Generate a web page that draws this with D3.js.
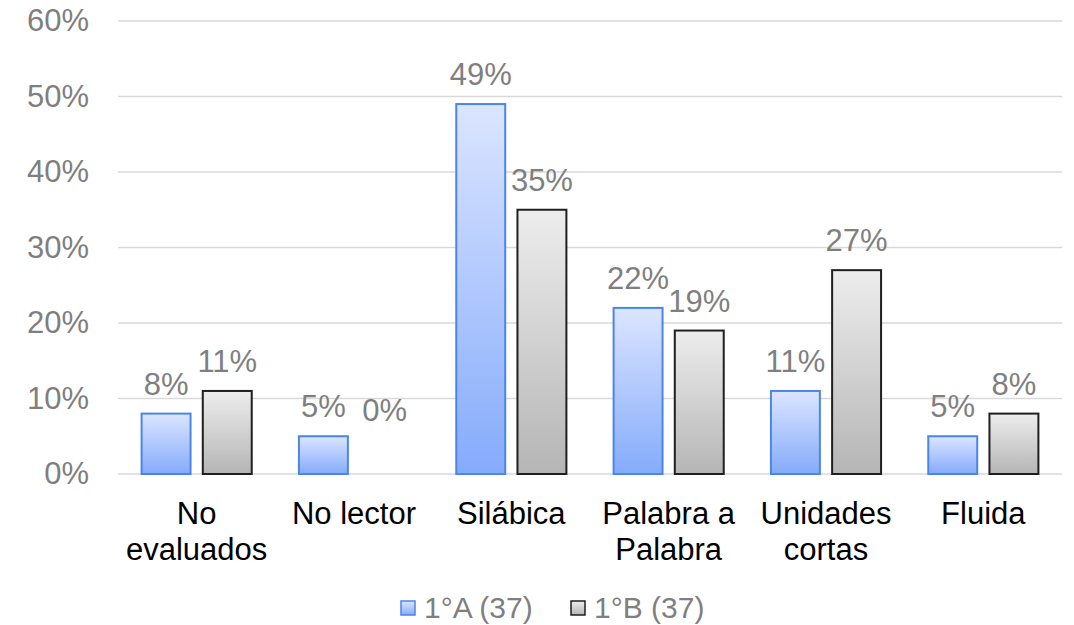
<!DOCTYPE html>
<html>
<head>
<meta charset="utf-8">
<script src="https://cdn.jsdelivr.net/npm/d3@7"></script>
<style>
  body { margin: 0; background: #fff; }
  text { font-family: "Liberation Sans", Arial, sans-serif; }
</style>
</head>
<body>
<div id="chart"></div>
<script>
// Width and height
var w = 1074;
var h = 625;

// chart data
var categories = [["No", "evaluados"], ["No lector"], ["Silábica"], ["Palabra a", "Palabra"], ["Unidades", "cortas"], ["Fluida"]];
var seriesNames = ["1°A (37)", "1°B (37)"];
var grupoA = [8, 5, 49, 22, 11, 5];
var grupoB = [11, 0, 35, 19, 27, 8];
var yTicks = [0, 10, 20, 30, 40, 50, 60];

var margin = { top: 21, right: 12, bottom: 151, left: 118 };
var fontSize = "31px";

var svg = d3.select("#chart")
  .append("svg")
  .attr("width", w)
  .attr("height", h);

// gradients for the bars
var defs = svg.append("defs");
function addGradient(id, top, bottom) {
  var g = defs.append("linearGradient")
    .attr("id", id)
    .attr("x1", 0).attr("y1", 0)
    .attr("x2", 0).attr("y2", 1);
  g.append("stop").attr("offset", "0%").attr("stop-color", top);
  g.append("stop").attr("offset", "100%").attr("stop-color", bottom);
}
addGradient("gradA", "#dbe5ff", "#85abfb");
addGradient("gradB", "#ededed", "#b5b5b5");

var fills = ["url(#gradA)", "url(#gradB)"];
var strokes = ["#4a85ea", "#1f1f1f"];

var x0 = d3.scaleBand()
  .domain(d3.range(categories.length))
  .range([margin.left, w - margin.right])
  .paddingInner(0.3)
  .paddingOuter(0.15);

var x1 = d3.scaleBand()
  .domain([0, 1])
  .range([0, x0.bandwidth()])
  .paddingInner(0.2);

var y = d3.scaleLinear()
  .domain([0, 60])
  .range([h - margin.bottom, margin.top]);

// gridlines
svg.append("g")
  .selectAll("line")
  .data(yTicks)
  .enter()
  .append("line")
  .attr("x1", margin.left)
  .attr("x2", w - margin.right)
  .attr("y1", function(d) { return y(d); })
  .attr("y2", function(d) { return y(d); })
  .style("stroke", "#d9d9d9")
  .style("stroke-width", 1.5);

// y axis labels
var yAxis = d3.axisLeft(y)
  .tickValues(yTicks)
  .tickFormat(function(d) { return d + "%"; })
  .tickSize(0)
  .tickPadding(29);

var gy = svg.append("g")
  .attr("transform", "translate(" + margin.left + ",0)")
  .call(yAxis);
gy.select(".domain").remove();
gy.selectAll("text")
  .style("font-size", fontSize)
  .style("fill", "#7f7f7f");

// category labels
var xAxis = d3.axisBottom(x0)
  .tickSize(0)
  .tickFormat("");

var gx = svg.append("g")
  .attr("transform", "translate(0," + y(0) + ")")
  .call(xAxis);
gx.select(".domain").remove();

gx.selectAll(".tick").each(function(d) {
  var t = d3.select(this).append("text")
    .attr("text-anchor", "middle")
    .style("font-size", fontSize)
    .style("fill", "#000");
  categories[d].forEach(function(line, i) {
    t.append("tspan")
      .attr("x", 0)
      .attr("y", 50 + i * 36)
      .text(line);
  });
});

// bars
var series = [grupoA, grupoB];
series.forEach(function(values, s) {
  var g = svg.append("g");
  g.selectAll("rect")
    .data(values.map(function(v, i) { return { v: v, i: i }; }).filter(function(d) { return d.v > 0; }))
    .enter()
    .append("rect")
    .attr("x", function(d) { return x0(d.i) + x1(s); })
    .attr("y", function(d) { return y(d.v); })
    .attr("width", x1.bandwidth())
    .attr("height", function(d) { return y(0) - y(d.v); })
    .style("fill", fills[s])
    .style("stroke", strokes[s])
    .style("stroke-width", 2);

  // data labels
  g.selectAll("text")
    .data(values)
    .enter()
    .append("text")
    .attr("x", function(d, i) { return x0(i) + x1(s) + x1.bandwidth() / 2; })
    .attr("y", function(d) { return y(Math.max(d, 4.5)) - 19; })
    .attr("text-anchor", "middle")
    .style("font-size", fontSize)
    .style("fill", "#7f7f7f")
    .text(function(d) { return d + "%"; });
});

// legend
var legend = svg.append("g")
  .attr("transform", "translate(400,618)");
var legendX = [0, 170];
seriesNames.forEach(function(name, s) {
  var item = legend.append("g")
    .attr("transform", "translate(" + legendX[s] + ",0)");
  item.append("rect")
    .attr("x", 1)
    .attr("y", -17)
    .attr("width", 14)
    .attr("height", 14)
    .style("fill", fills[s])
    .style("stroke", strokes[s])
    .style("stroke-width", 1.5);
  item.append("text")
    .attr("x", 24)
    .attr("y", 0)
    .style("font-size", "30px")
    .style("fill", "#7f7f7f")
    .text(name);
});
</script>
</body>
</html>
